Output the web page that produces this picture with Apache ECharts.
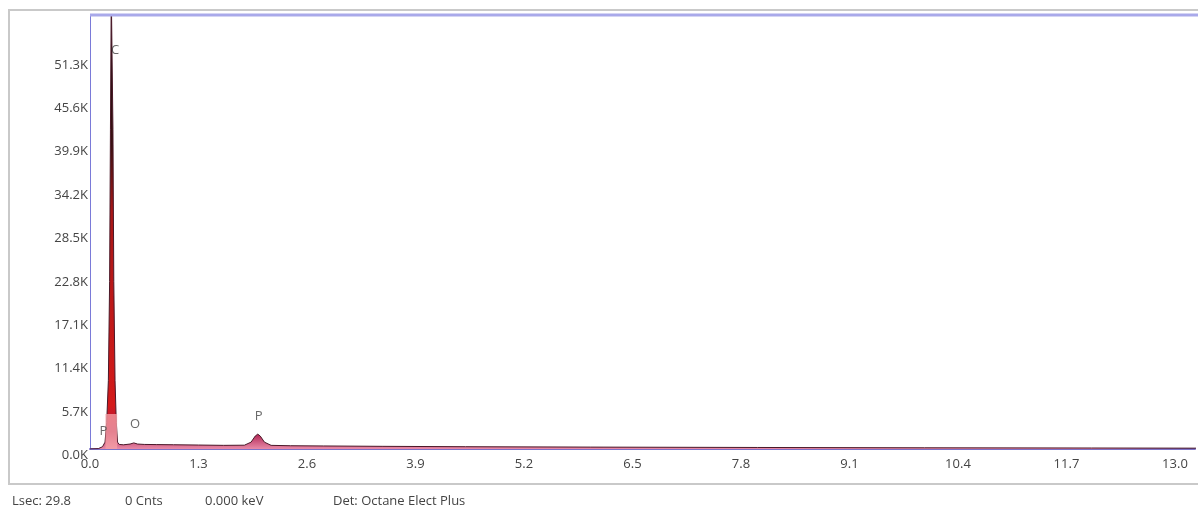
<!DOCTYPE html>
<html>
<head>
<meta charset="utf-8">
<script src="https://cdn.jsdelivr.net/npm/echarts@6/dist/echarts.min.js"></script>
<style>
html,body{margin:0;padding:0;background:#fff;}
#chart{width:1198px;height:512px;}
</style>
</head>
<body>
<div id="chart"></div>
<script>
// Spectrum data (keV, counts)
const energy = [0.00, 0.10, 0.15, 0.18, 0.20, 0.22, 0.235, 0.245, 0.255, 0.265, 0.275, 0.285, 0.30, 0.315, 0.33, 0.35, 0.40, 0.48, 0.525, 0.57, 0.65, 0.80, 1.00, 1.30, 1.60, 1.85, 1.93, 1.98, 2.01, 2.04, 2.09, 2.17, 2.40, 2.80, 3.50, 4.50, 6.00, 8.00, 10.00, 12.00, 13.30];
const counts = [0, 50, 300, 900, 3500, 9000, 22000, 42000, 60000, 60000, 42000, 22000, 9000, 3500, 900, 600, 550, 650, 800, 650, 600, 580, 560, 520, 480, 500, 900, 1700, 1950, 1700, 900, 480, 430, 400, 350, 300, 250, 200, 160, 130, 110];

// Highlighted region (ROI) under the C peak
const roiEnergy = [0.185, 0.325];
const roiCounts = [4600, 4600];

// Element labels
const elementNames = ['C', 'P', 'O', 'P'];
const elementEnergy = [0.30, 0.16, 0.54, 2.02];
const elementCounts = [52300, 2300, 3300, 4300];

// Axis ticks
const xInterval = 1.3;
const yInterval = 5700;

// Status line
const footerTexts = ['Lsec: 29.8', '0 Cnts', '0.000 keV', 'Det: Octane Elect Plus'];
const footerX = [12, 125, 205, 333];

const chart = echarts.init(document.getElementById('chart'), null, {renderer: 'canvas'});
const spectrum = energy.map((e, i) => [e, counts[i]]);
const roi = roiEnergy.map((e, i) => [e, roiCounts[i]]);
const labels = elementNames.map((n, i) => ({name: n, value: [elementEnergy[i], elementCounts[i]]}));

const fontFam = '"Open Sans", "Noto Sans", sans-serif';

const option = {
  animation: false,
  backgroundColor: '#ffffff',
  grid: {left: 90, right: 3, top: 15, bottom: 63, show: false},
  xAxis: {
    type: 'value', min: 0, max: 13.24, interval: xInterval,
    axisLine: {show: true, lineStyle: {color: '#7c72c8', width: 2}},
    axisTick: {show: false}, splitLine: {show: false},
    axisLabel: {
      color: '#444', fontSize: 13, fontFamily: fontFam, margin: 9,
      formatter: v => v > 13.05 ? '' : v.toFixed(1)
    }
  },
  yAxis: {
    type: 'value', min: 0, max: 57000, interval: yInterval,
    axisLine: {show: true, lineStyle: {color: '#7a7ad8', width: 1}},
    axisTick: {show: false}, splitLine: {show: false},
    axisLabel: {
      color: '#444', fontSize: 13, fontFamily: fontFam, margin: 2, verticalAlign: 'top',
      formatter: v => v > 55000 ? '' : (v / 1000).toFixed(1) + 'K'
    }
  },
  series: [
    {
      type: 'line', data: spectrum, symbol: 'none', smooth: false, z: 2,
      lineStyle: {color: '#4a1828', width: 1},
      areaStyle: {
        opacity: 1,
        color: {type: 'linear', x: 0, y: 15, x2: 0, y2: 449, global: true,
          colorStops: [
            {offset: 0, color: '#1a1010'},
            {offset: 0.3, color: '#3a1010'},
            {offset: 0.45, color: '#a81616'},
            {offset: 0.9, color: '#d41a1a'},
            {offset: 0.96, color: '#a81446'},
            {offset: 1, color: '#e88aa8'}
          ]}
      }
    },
    {
      type: 'line', data: roi, symbol: 'none', z: 3,
      lineStyle: {width: 0},
      areaStyle: {color: 'rgba(246,160,165,0.78)', opacity: 1}
    },
    {
      type: 'scatter', data: labels, symbolSize: 0, z: 4,
      label: {show: true, formatter: '{b}', position: 'inside', color: '#444', fontSize: 13, fontFamily: fontFam}
    }
  ],
  graphic: [
    {type: 'rect', shape: {x: 9, y: 10, width: 1200, height: 474}, style: {fill: 'none', stroke: '#c9c9c9', lineWidth: 2}, z: 0},
    {type: 'line', shape: {x1: 90, y1: 15, x2: 1198, y2: 15}, style: {stroke: '#a9a9ea', lineWidth: 3}, z: 10}
  ].concat(footerTexts.map((t, i) => ({
    type: 'text', left: footerX[i], top: 495,
    style: {text: t, fill: '#444', font: '13px ' + fontFam}
  })))
};
chart.setOption(option);
</script>
</body>
</html>
